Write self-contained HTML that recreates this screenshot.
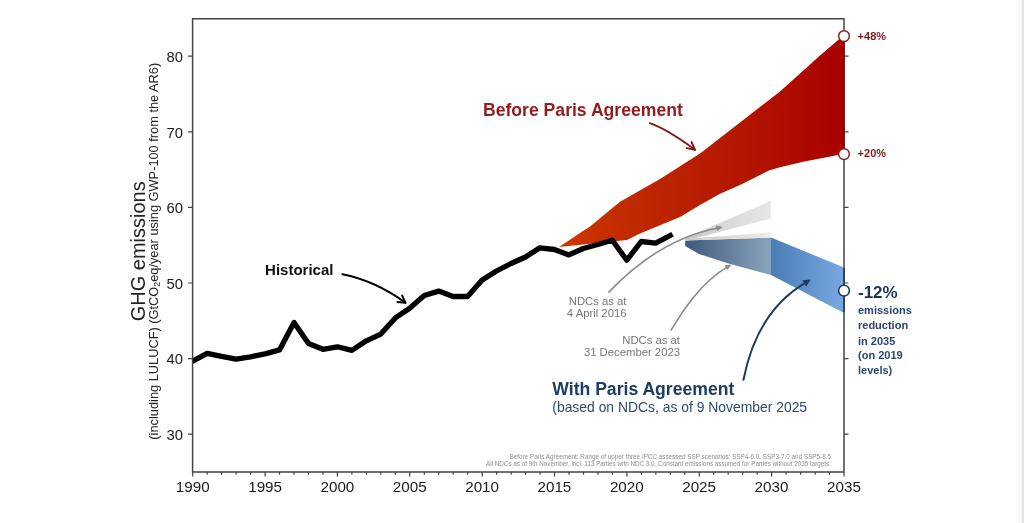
<!DOCTYPE html>
<html><head><meta charset="utf-8">
<style>
html,body{margin:0;padding:0;background:#fff;width:1024px;height:523px;overflow:hidden}
svg{display:block;filter:blur(0.5px)}
text{font-family:"Liberation Sans",sans-serif}
</style></head>
<body>
<svg width="1024" height="523" viewBox="0 0 1024 523">
<defs>
<linearGradient id="gRed" gradientUnits="userSpaceOnUse" x1="559" y1="0" x2="844" y2="0">
<stop offset="0" stop-color="#d03600"/><stop offset="0.25" stop-color="#c02a00"/><stop offset="0.67" stop-color="#b21400"/><stop offset="1" stop-color="#a80000"/>
</linearGradient>
<linearGradient id="gBlueL" gradientUnits="userSpaceOnUse" x1="685" y1="0" x2="771" y2="0">
<stop offset="0" stop-color="#3e5a7c"/><stop offset="1" stop-color="#8aa4bd"/>
</linearGradient>
<linearGradient id="gBlueR" gradientUnits="userSpaceOnUse" x1="771" y1="0" x2="844" y2="0">
<stop offset="0" stop-color="#4a7db6"/><stop offset="1" stop-color="#78a8e0"/>
</linearGradient>
<linearGradient id="gGray1" gradientUnits="userSpaceOnUse" x1="685" y1="0" x2="771" y2="0">
<stop offset="0" stop-color="#c4c4c4"/><stop offset="0.4" stop-color="#d8d8d8"/><stop offset="1" stop-color="#e6e6e6"/>
</linearGradient>
<linearGradient id="gGray2" gradientUnits="userSpaceOnUse" x1="685" y1="0" x2="771" y2="0">
<stop offset="0" stop-color="#c8c8c8"/><stop offset="1" stop-color="#efede8"/>
</linearGradient>
<linearGradient id="gEdge" x1="0" y1="0" x2="1" y2="0">
<stop offset="0" stop-color="#fff"/><stop offset="1" stop-color="#f5f5f5"/>
</linearGradient>
<clipPath id="ax"><rect x="192.6" y="18.8" width="651.4" height="453.2"/></clipPath>
</defs>
<rect x="0" y="0" width="1024" height="523" fill="#fff"/>
<rect x="1017" y="0" width="5" height="523" fill="url(#gEdge)"/><rect x="1022" y="0" width="2" height="523" fill="#e6e6e6"/>

<!-- red band -->
<path d="M559,247 L580,232.9 L590,226.4 L620,201.8 L660,179.1 L700,153.4 L740,122.6 L780,91.4 L820,55.6 L844,35 L844,154 L836.7,155.2 L804.4,161.6 L780,167.2 L769.5,170.2 L740,184.9 L720,193.7 L700,204.9 L680,216.9 L660,225.3 L638.8,234 L627,240 L612,241.5 Z" fill="url(#gRed)"/>

<!-- blue band -->
<path d="M685.2,240.6 L771,237.6 L771,275 L728.5,263.4 L699,254.1 L685.2,246.1 Z" fill="url(#gBlueL)"/>
<path d="M771,237.5 L844,267.5 L844,313 L771,275 Z" fill="url(#gBlueR)"/>
<!-- gray wedges -->
<path d="M685.2,238 L770.8,200.8 L770.8,218.5 L685.2,241 Z" fill="url(#gGray1)"/>
<path d="M685.2,239 L770.6,232.3 L770.6,237.6 L685.2,240.5 Z" fill="url(#gGray2)"/>

<!-- historical line -->
<polyline clip-path="url(#ax)" fill="none" stroke="#000" stroke-width="5.3" stroke-linejoin="round" stroke-linecap="square"
points="192.7,361.1 207.2,353.3 221.6,356.4 236.1,359.1 250.6,356.8 265.1,353.9 279.5,349.9 294.0,322.4 308.5,343.5 322.9,349.3 337.4,346.8 351.9,350.4 366.3,340.8 380.8,334.1 395.3,317.9 409.7,308.3 424.2,295.5 438.7,291.1 453.1,296.5 467.6,296.5 482.1,280.0 496.5,271.0 511.0,263.5 525.5,257.0 539.9,247.8 554.4,249.5 568.9,254.9 583.3,248.5 597.8,244.5 612.3,240.3 626.8,260.2 641.2,241.5 655.7,243.1 670.2,235.5"/>

<!-- axes -->
<g stroke="#444" stroke-width="1.5" fill="none">
<path d="M192.6,18.8 L844,18.8 L844,472 L192.6,472 Z"/>
</g>
<path stroke="#444" stroke-width="1.2" fill="none" d="M192.7,472V476.5 M207.2,472V474.8 M221.6,472V474.8 M236.1,472V474.8 M250.6,472V474.8 M265.1,472V476.5 M279.5,472V474.8 M294.0,472V474.8 M308.5,472V474.8 M323.0,472V474.8 M337.4,472V476.5 M351.9,472V474.8 M366.4,472V474.8 M380.9,472V474.8 M395.3,472V474.8 M409.8,472V476.5 M424.3,472V474.8 M438.7,472V474.8 M453.2,472V474.8 M467.7,472V474.8 M482.2,472V476.5 M496.6,472V474.8 M511.1,472V474.8 M525.6,472V474.8 M540.1,472V474.8 M554.5,472V476.5 M569.0,472V474.8 M583.5,472V474.8 M598.0,472V474.8 M612.4,472V474.8 M626.9,472V476.5 M641.4,472V474.8 M655.8,472V474.8 M670.3,472V474.8 M684.8,472V474.8 M699.3,472V476.5 M713.7,472V474.8 M728.2,472V474.8 M742.7,472V474.8 M757.2,472V474.8 M771.6,472V476.5 M786.1,472V474.8 M800.6,472V474.8 M815.1,472V474.8 M829.5,472V474.8 M844.0,472V476.5 M188,434.2H192.7 M844,434.2H848.5 M188,358.6H192.7 M844,358.6H848.5 M188,283.0H192.7 M844,283.0H848.5 M188,207.4H192.7 M844,207.4H848.5 M188,131.8H192.7 M844,131.8H848.5 M188,56.2H192.7 M844,56.2H848.5"/>

<path d="M844,40V150" stroke="#6e0a0a" stroke-width="1.5"/>
<path d="M844,268V312" stroke="#26384f" stroke-width="1.5"/>
<!-- arrows -->
<g fill="none" stroke-linecap="round" stroke-linejoin="round">
<path d="M342.3,274.3 Q375,280.6 405.5,302.8" stroke="#000" stroke-width="1.9"/>
<path d="M402.1,295.5 L405.5,302.8 L397.4,302" stroke="#000" stroke-width="1.9"/>
<path d="M649.9,123.2 Q667,129.2 695,149.8" stroke="#841616" stroke-width="1.9"/>
<path d="M691.6,142.1 L695,149.8 L686.9,148.1" stroke="#841616" stroke-width="1.9"/>
<path d="M608.9,292.1 C628.1,271.9 665.3,237.7 719.1,227.7" stroke="#8a8a8a" stroke-width="1.6"/>
<path d="M671.1,330.1 C682,312 700,283 728.2,266.4" stroke="#8a8a8a" stroke-width="1.6"/>
<path d="M743.5,379.8 C750.5,343.7 767.2,304.6 806.9,281.8" stroke="#1c3a60" stroke-width="2"/>
</g>
<path d="M722.9,227.0 L716.0,225.4 L717.0,230.9 Z" fill="#8a8a8a"/>
<path d="M731.6,264.4 L724.6,265.3 L727.4,270.1 Z" fill="#8a8a8a"/>
<path d="M810.8,279.6 L802.5,280.2 L806.1,286.5 Z" fill="#1c3a60"/>

<!-- circles -->
<circle cx="844" cy="36.1" r="5.4" fill="#fff" stroke="#7a2424" stroke-width="1.5"/>
<circle cx="844" cy="154.1" r="5.4" fill="#fff" stroke="#7a2424" stroke-width="1.5"/>
<circle cx="844" cy="290.6" r="5.4" fill="#fff" stroke="#1c3358" stroke-width="1.5"/>

<!-- texts -->
<g fill="#1a1a1a" font-size="14.8">
<text x="183" y="61.9" text-anchor="end">80</text>
<text x="183" y="137.5" text-anchor="end">70</text>
<text x="183" y="213.1" text-anchor="end">60</text>
<text x="183" y="288.7" text-anchor="end">50</text>
<text x="183" y="364.3" text-anchor="end">40</text>
<text x="183" y="439.9" text-anchor="end">30</text>
</g>
<g fill="#1a1a1a" font-size="15.2" text-anchor="middle">
<text x="192.7" y="492">1990</text>
<text x="265.1" y="492">1995</text>
<text x="337.4" y="492">2000</text>
<text x="409.7" y="492">2005</text>
<text x="482.1" y="492">2010</text>
<text x="554.4" y="492">2015</text>
<text x="626.8" y="492">2020</text>
<text x="699.1" y="492">2025</text>
<text x="771.5" y="492">2030</text>
<text x="844" y="492">2035</text>
</g>
<text transform="translate(145.1,251.3) rotate(-90)" text-anchor="middle" font-size="20" fill="#222">GHG emissions</text>
<text transform="translate(158.2,251.2) rotate(-90)" text-anchor="middle" font-size="12.8" fill="#222">(including LULUCF) (GtCO<tspan font-size="8.9" dy="2">2</tspan><tspan dy="-2">eq/year using GWP-100 from the AR6)</tspan></text>

<text x="483" y="115.8" font-size="17.6" font-weight="bold" fill="#931b1b">Before Paris Agreement</text>
<text x="265.1" y="274.9" font-size="15" font-weight="bold" fill="#111">Historical</text>
<g fill="#777" font-size="11.3" text-anchor="end">
<text x="626.5" y="304.6">NDCs as at</text>
<text x="626.5" y="316.8">4 April 2016</text>
<text x="680" y="343.9">NDCs as at</text>
<text x="680" y="355.6">31 December 2023</text>
</g>
<text x="552.3" y="394.8" font-size="17.6" font-weight="bold" fill="#1e3d64">With Paris Agreement</text>
<text x="552.3" y="412.2" font-size="13.9" fill="#2d4a6e">(based on NDCs, as of 9 November 2025</text>
<g font-weight="bold" fill="#7d1a1a" font-size="11">
<text x="857.6" y="39.5">+48%</text>
<text x="857.6" y="157.2">+20%</text>
</g>
<text x="858" y="298.2" font-size="17" font-weight="bold" fill="#1c3358">-12%</text>
<g font-size="11" font-weight="bold" fill="#2a4570">
<text x="858" y="314">emissions</text>
<text x="858" y="328.7">reduction</text>
<text x="858" y="344.5">in 2035</text>
<text x="858" y="359.2">(on 2019</text>
<text x="858" y="374">levels)</text>
</g>
<g fill="#8c8c8c" font-size="6.3" text-anchor="end">
<text x="831" y="458.9" font-size="6.34">Before Paris Agreement: Range of upper three IPCC assessed SSP scenarios: SSP4-6.0, SSP3-7.0 and SSP5-8.5</text>
<text x="831" y="465.6">All NDCs as of 9th November, incl. 113 Parties with NDC 3.0. Constant emissions assumed for Parties without 2035 targets.</text>
</g>
</svg>
</body></html>
